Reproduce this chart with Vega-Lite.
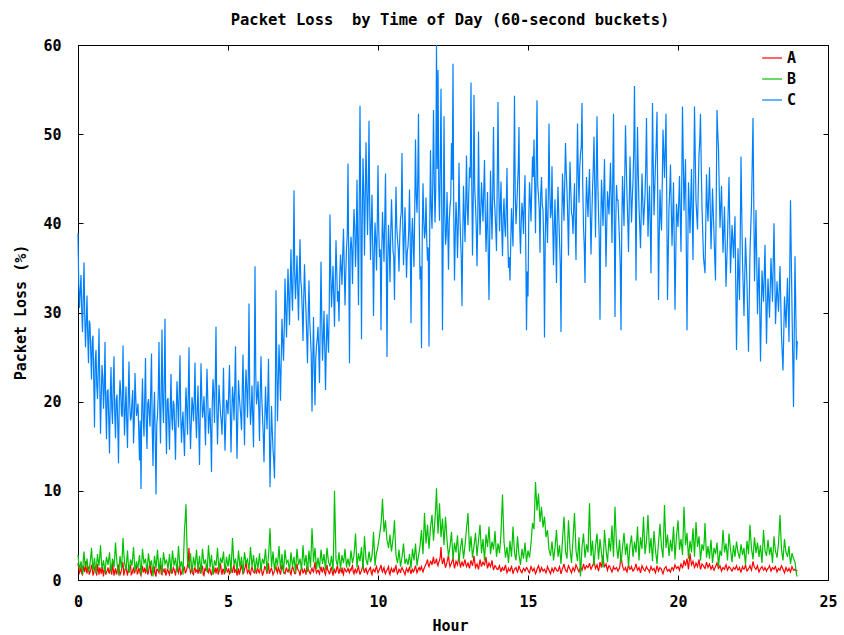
{
  "$schema": "https://vega.github.io/schema/vega-lite/v6.json",
  "width": 750,
  "height": 535,
  "autosize": {"type": "none"},
  "padding": {"left": 78, "top": 45, "right": 16, "bottom": 55},
  "title": {
    "text": "Packet Loss \u00a0by Time of Day (60-second buckets)",
    "frame": "group",
    "anchor": "middle",
    "baseline": "alphabetic",
    "offset": -2,
    "dx": -3,
    "font": "DejaVu Sans Mono",
    "fontSize": 15.5,
    "fontWeight": "bold",
    "color": "#000"
  },
  "data": {
    "values": [
      {"h":0,"A":1.9,"B":2.8,"C":38.9},{"h":0.025,"A":1.3,"B":1.9,"C":33.1},{"h":0.05,"A":0.8,"B":1.2,"C":30.5},{"h":0.075,"A":1.0,"B":1.6,"C":32.4},{"h":0.1,"A":1.5,"B":2.1,"C":34.2},{"h":0.125,"A":0.7,"B":1.4,"C":30.2},{"h":0.15,"A":0.6,"B":0.6,"C":27.8},{"h":0.175,"A":1.6,"B":2.3,"C":31.5},{"h":0.2,"A":1.2,"B":3.2,"C":35.6},{"h":0.225,"A":0.9,"B":2.0,"C":29.8},
      {"h":0.25,"A":2.1,"B":1.5,"C":26.1},{"h":0.275,"A":1.2,"B":1.8,"C":28.9},{"h":0.3,"A":0.7,"B":2.4,"C":31.9},{"h":0.325,"A":1.5,"B":1.5,"C":27.3},{"h":0.35,"A":1.4,"B":0.9,"C":24.3},{"h":0.375,"A":0.6,"B":1.3,"C":29.1},{"h":0.4,"A":0.9,"B":1.8,"C":28.7},{"h":0.425,"A":1.1,"B":2.6,"C":25.6},{"h":0.45,"A":1.7,"B":3.6,"C":22.5},{"h":0.475,"A":1.4,"B":2.2,"C":26.8},
      {"h":0.5,"A":0.5,"B":1.1,"C":27.4},{"h":0.525,"A":0.8,"B":1.8,"C":22.4},{"h":0.55,"A":1.3,"B":2.5,"C":17.1},{"h":0.575,"A":1.6,"B":1.5,"C":24.7},{"h":0.6,"A":1.0,"B":0.7,"C":25.8},{"h":0.625,"A":0.5,"B":1.9,"C":21.9},{"h":0.65,"A":1.8,"B":2.9,"C":20.3},{"h":0.675,"A":1.2,"B":2.1,"C":23.5},{"h":0.7,"A":0.6,"B":1.6,"C":28.2},{"h":0.725,"A":1.4,"B":2.6,"C":22.1},
      {"h":0.75,"A":1.1,"B":3.9,"C":16.4},{"h":0.775,"A":0.7,"B":2.4,"C":20.6},{"h":0.8,"A":1.5,"B":1.3,"C":24.1},{"h":0.825,"A":1.0,"B":1.7,"C":22.8},{"h":0.85,"A":0.4,"B":2.2,"C":19.2},{"h":0.875,"A":1.3,"B":1.5,"C":21.4},{"h":0.9,"A":1.2,"B":0.8,"C":26.7},{"h":0.925,"A":0.6,"B":1.8,"C":19.7},{"h":0.95,"A":0.9,"B":2.6,"C":15.8},{"h":0.975,"A":1.1,"B":2.2,"C":21.2},
      {"h":1,"A":1.4,"B":1.7,"C":21.3},{"h":1.025,"A":0.9,"B":2.3,"C":18.1},{"h":1.05,"A":0.7,"B":3.1,"C":14.2},{"h":1.075,"A":1.5,"B":1.8,"C":20.6},{"h":1.1,"A":1.1,"B":0.9,"C":23.9},{"h":1.125,"A":0.6,"B":1.6,"C":19.3},{"h":1.15,"A":1.9,"B":2.4,"C":17.5},{"h":1.175,"A":1.2,"B":2.0,"C":21.8},{"h":1.2,"A":0.5,"B":1.4,"C":25.1},{"h":1.225,"A":1.0,"B":2.7,"C":18.7},
      {"h":1.25,"A":1.3,"B":4.2,"C":15.9},{"h":1.275,"A":0.7,"B":2.9,"C":20.2},{"h":1.3,"A":0.8,"B":1.9,"C":20.8},{"h":1.325,"A":1.4,"B":1.2,"C":17.4},{"h":1.35,"A":1.6,"B":0.5,"C":13.1},{"h":1.375,"A":1.1,"B":1.6,"C":19.9},{"h":1.4,"A":0.6,"B":2.7,"C":22.4},{"h":1.425,"A":0.8,"B":1.9,"C":21.0},{"h":1.45,"A":1.2,"B":1.2,"C":18.6},{"h":1.475,"A":1.6,"B":2.8,"C":18.3},
      {"h":1.5,"A":2.0,"B":4.7,"C":26.3},{"h":1.525,"A":0.5,"B":3.1,"C":20.7},{"h":1.55,"A":0.9,"B":2.0,"C":16.2},{"h":1.575,"A":1.3,"B":1.5,"C":19.1},{"h":1.6,"A":1.4,"B":1.1,"C":21.7},{"h":1.625,"A":0.9,"B":2.2,"C":17.8},{"h":1.65,"A":0.5,"B":3.3,"C":14.8},{"h":1.675,"A":1.2,"B":1.9,"C":20.4},{"h":1.7,"A":1.0,"B":0.8,"C":24.5},{"h":1.725,"A":1.5,"B":1.5,"C":19.6},
      {"h":1.75,"A":1.7,"B":2.3,"C":17.9},{"h":1.775,"A":0.6,"B":2.0,"C":18.2},{"h":1.8,"A":0.7,"B":1.6,"C":20.1},{"h":1.825,"A":1.1,"B":2.6,"C":21.3},{"h":1.85,"A":1.3,"B":3.7,"C":15.3},{"h":1.875,"A":0.8,"B":2.3,"C":17.7},{"h":1.9,"A":0.9,"B":1.0,"C":23.2},{"h":1.925,"A":1.4,"B":1.5,"C":20.5},{"h":1.95,"A":1.5,"B":2.1,"C":18.4},{"h":1.975,"A":0.7,"B":1.6,"C":18.9},
      {"h":2,"A":0.8,"B":1.4,"C":19.8},{"h":2.025,"A":1.3,"B":2.1,"C":16.8},{"h":2.05,"A":1.2,"B":2.8,"C":13.4},{"h":2.075,"A":0.7,"B":1.7,"C":17.9},{"h":2.1,"A":0.5,"B":0.6,"C":10.2},{"h":2.125,"A":1.1,"B":2.0,"C":19.2},{"h":2.15,"A":1.6,"B":3.5,"C":22.6},{"h":2.175,"A":0.9,"B":2.6,"C":18.1},{"h":2.2,"A":1.0,"B":1.9,"C":16.1},{"h":2.225,"A":1.4,"B":2.1,"C":20.5},
      {"h":2.25,"A":0.7,"B":2.4,"C":24.9},{"h":2.275,"A":1.2,"B":1.6,"C":17.3},{"h":2.3,"A":1.4,"B":0.9,"C":14.7},{"h":2.325,"A":0.6,"B":2.0,"C":19.8},{"h":2.35,"A":0.9,"B":3.0,"C":20.3},{"h":2.375,"A":1.5,"B":2.2,"C":18.6},{"h":2.4,"A":2.1,"B":1.5,"C":17.2},{"h":2.425,"A":0.8,"B":1.8,"C":21.4},{"h":2.45,"A":0.6,"B":2.2,"C":25.4},{"h":2.475,"A":1.3,"B":1.3,"C":16.9},
      {"h":2.5,"A":1.1,"B":0.4,"C":12.8},{"h":2.525,"A":0.9,"B":1.6,"C":18.7},{"h":2.55,"A":1.5,"B":2.7,"C":21.1},{"h":2.575,"A":0.6,"B":2.0,"C":15.8},{"h":2.6,"A":0.4,"B":1.3,"C":9.6},{"h":2.625,"A":1.2,"B":2.4,"C":17.4},{"h":2.65,"A":1.2,"B":3.4,"C":18.5},{"h":2.675,"A":1.0,"B":2.1,"C":20.9},{"h":2.7,"A":0.8,"B":1.0,"C":26.7},{"h":2.725,"A":1.4,"B":1.7,"C":19.3},
      {"h":2.75,"A":1.7,"B":2.5,"C":15.3},{"h":2.775,"A":0.7,"B":1.6,"C":21.6},{"h":2.8,"A":0.6,"B":0.7,"C":28.1},{"h":2.825,"A":1.3,"B":1.9,"C":19.8},{"h":2.85,"A":1.0,"B":3.1,"C":17.6},{"h":2.875,"A":0.9,"B":2.4,"C":22.4},{"h":2.9,"A":1.3,"B":1.8,"C":29.3},{"h":2.925,"A":0.5,"B":2.0,"C":18.5},{"h":2.95,"A":0.7,"B":2.3,"C":14.1},{"h":2.975,"A":1.2,"B":1.8,"C":20.1},
      {"h":3,"A":1.1,"B":1.2,"C":20.4},{"h":3.025,"A":0.8,"B":2.0,"C":17.6},{"h":3.05,"A":0.6,"B":2.9,"C":14.6},{"h":3.075,"A":1.3,"B":1.9,"C":19.4},{"h":3.1,"A":1.5,"B":0.8,"C":23.1},{"h":3.125,"A":0.7,"B":2.1,"C":18.2},{"h":3.15,"A":0.9,"B":3.3,"C":16.8},{"h":3.175,"A":1.4,"B":2.4,"C":20.1},{"h":3.2,"A":1.2,"B":1.6,"C":19.7},{"h":3.225,"A":0.9,"B":2.0,"C":16.8},
      {"h":3.25,"A":0.5,"B":2.5,"C":13.5},{"h":3.275,"A":1.2,"B":1.7,"C":18.9},{"h":3.3,"A":1.7,"B":0.9,"C":22.3},{"h":3.325,"A":1.0,"B":2.3,"C":19.7},{"h":3.35,"A":0.8,"B":3.8,"C":17.1},{"h":3.375,"A":1.5,"B":2.5,"C":21.2},{"h":3.4,"A":1.3,"B":1.4,"C":25.2},{"h":3.425,"A":0.6,"B":1.8,"C":18.4},{"h":3.45,"A":0.7,"B":2.1,"C":15.4},{"h":3.475,"A":1.1,"B":1.4,"C":17.6},
      {"h":3.5,"A":1.0,"B":0.6,"C":18.9},{"h":3.525,"A":1.3,"B":3.2,"C":16.2},{"h":3.55,"A":1.4,"B":5.6,"C":13.9},{"h":3.575,"A":0.8,"B":6.9,"C":18.5},{"h":3.6,"A":0.9,"B":8.5,"C":21.6},{"h":3.625,"A":1.2,"B":4.8,"C":19.3},{"h":3.65,"A":1.6,"B":2.2,"C":16.3},{"h":3.675,"A":2.2,"B":1.7,"C":20.8},{"h":3.7,"A":3.6,"B":1.3,"C":26.1},{"h":3.725,"A":1.4,"B":2.1,"C":18.1},
      {"h":3.75,"A":0.8,"B":3.0,"C":14.7},{"h":3.775,"A":1.0,"B":1.9,"C":17.5},{"h":3.8,"A":1.2,"B":0.8,"C":20.5},{"h":3.825,"A":0.7,"B":1.7,"C":19.6},{"h":3.85,"A":0.6,"B":2.6,"C":17.8},{"h":3.875,"A":1.3,"B":2.0,"C":20.3},{"h":3.9,"A":1.4,"B":1.5,"C":24.4},{"h":3.925,"A":0.9,"B":2.4,"C":18.2},{"h":3.95,"A":1.0,"B":3.4,"C":15.9},{"h":3.975,"A":1.2,"B":2.2,"C":19.1},
      {"h":4,"A":0.7,"B":1.1,"C":21.8},{"h":4.025,"A":1.1,"B":1.9,"C":17.4},{"h":4.05,"A":1.3,"B":2.7,"C":12.9},{"h":4.075,"A":0.8,"B":1.7,"C":18.8},{"h":4.1,"A":0.9,"B":0.7,"C":24.3},{"h":4.125,"A":1.4,"B":2.1,"C":20.6},{"h":4.15,"A":1.6,"B":3.5,"C":18.2},{"h":4.175,"A":0.6,"B":2.6,"C":19.1},{"h":4.2,"A":0.5,"B":1.8,"C":20.6},{"h":4.225,"A":1.2,"B":2.0,"C":17.9},
      {"h":4.25,"A":1.1,"B":2.3,"C":15.1},{"h":4.275,"A":1.5,"B":1.6,"C":19.8},{"h":4.3,"A":1.8,"B":0.9,"C":23.7},{"h":4.325,"A":0.9,"B":2.3,"C":20.4},{"h":4.35,"A":0.8,"B":3.9,"C":16.4},{"h":4.375,"A":1.3,"B":2.7,"C":18.2},{"h":4.4,"A":1.2,"B":1.4,"C":19.3},{"h":4.425,"A":0.7,"B":2.1,"C":16.5},{"h":4.45,"A":0.6,"B":2.8,"C":12.1},{"h":4.475,"A":1.1,"B":1.7,"C":19.7},
      {"h":4.5,"A":1.5,"B":0.6,"C":22.5},{"h":4.525,"A":0.8,"B":1.4,"C":20.8},{"h":4.55,"A":1.0,"B":2.2,"C":17.6},{"h":4.575,"A":1.4,"B":1.9,"C":22.3},{"h":4.6,"A":0.7,"B":1.6,"C":28.4},{"h":4.625,"A":1.2,"B":2.5,"C":19.5},{"h":4.65,"A":1.4,"B":3.6,"C":15.2},{"h":4.675,"A":0.6,"B":2.3,"C":18.6},{"h":4.7,"A":0.9,"B":1.0,"C":21.9},{"h":4.725,"A":1.3,"B":1.8,"C":20.2},
      {"h":4.75,"A":1.9,"B":2.5,"C":18.7},{"h":4.775,"A":1.0,"B":2.2,"C":17.8},{"h":4.8,"A":0.6,"B":1.9,"C":16.3},{"h":4.825,"A":1.2,"B":2.5,"C":19.4},{"h":4.85,"A":1.2,"B":3.2,"C":23.8},{"h":4.875,"A":0.7,"B":2.0,"C":18.3},{"h":4.9,"A":0.8,"B":0.8,"C":14.5},{"h":4.925,"A":1.5,"B":1.7,"C":17.6},{"h":4.95,"A":1.3,"B":2.6,"C":20.2},{"h":4.975,"A":0.9,"B":2.0,"C":19.8},
      {"h":5,"A":1.0,"B":1.5,"C":18.6},{"h":5.025,"A":1.3,"B":2.2,"C":21.2},{"h":5.05,"A":0.6,"B":2.9,"C":24.1},{"h":5.075,"A":0.9,"B":1.9,"C":19.1},{"h":5.1,"A":1.4,"B":0.8,"C":14.3},{"h":5.125,"A":1.1,"B":2.8,"C":18.3},{"h":5.15,"A":0.8,"B":4.7,"C":21.7},{"h":5.175,"A":1.4,"B":3.1,"C":20.4},{"h":5.2,"A":1.7,"B":1.7,"C":17.9},{"h":5.225,"A":0.8,"B":2.0,"C":21.6},
      {"h":5.25,"A":1.1,"B":2.4,"C":26.2},{"h":5.275,"A":1.2,"B":1.7,"C":18.9},{"h":5.3,"A":0.5,"B":1.0,"C":13.6},{"h":5.325,"A":0.9,"B":2.1,"C":17.8},{"h":5.35,"A":1.3,"B":3.3,"C":22.4},{"h":5.375,"A":0.6,"B":2.4,"C":20.7},{"h":5.4,"A":0.9,"B":1.4,"C":19.5},{"h":5.425,"A":1.4,"B":1.9,"C":18.4},{"h":5.45,"A":1.6,"B":2.6,"C":16.8},{"h":5.475,"A":1.1,"B":1.7,"C":21.3},
      {"h":5.5,"A":0.7,"B":0.7,"C":25.3},{"h":5.525,"A":0.8,"B":1.9,"C":19.6},{"h":5.55,"A":1.2,"B":3.1,"C":15.1},{"h":5.575,"A":1.5,"B":2.5,"C":20.8},{"h":5.6,"A":2.2,"B":1.9,"C":23.6},{"h":5.625,"A":1.3,"B":2.1,"C":21.5},{"h":5.65,"A":0.8,"B":2.3,"C":18.2},{"h":5.675,"A":1.0,"B":1.7,"C":22.6},{"h":5.7,"A":1.1,"B":1.1,"C":31.0},{"h":5.725,"A":0.7,"B":2.4,"C":20.3},
      {"h":5.75,"A":0.6,"B":3.7,"C":17.4},{"h":5.775,"A":1.2,"B":2.6,"C":19.1},{"h":5.8,"A":1.5,"B":1.5,"C":21.8},{"h":5.825,"A":1.1,"B":2.1,"C":18.2},{"h":5.85,"A":0.9,"B":2.8,"C":14.9},{"h":5.875,"A":0.8,"B":1.9,"C":22.4},{"h":5.9,"A":1.3,"B":0.9,"C":35.2},{"h":5.925,"A":1.0,"B":1.7,"C":23.1},{"h":5.95,"A":0.7,"B":2.5,"C":19.7},{"h":5.975,"A":1.3,"B":1.9,"C":20.6},
      {"h":6,"A":1.2,"B":1.3,"C":22.3},{"h":6.025,"A":0.9,"B":2.1,"C":19.4},{"h":6.05,"A":0.8,"B":3.0,"C":15.6},{"h":6.075,"A":1.3,"B":2.0,"C":21.2},{"h":6.1,"A":1.6,"B":1.1,"C":25.1},{"h":6.125,"A":1.0,"B":1.8,"C":20.6},{"h":6.15,"A":0.5,"B":2.4,"C":18.4},{"h":6.175,"A":0.8,"B":2.1,"C":16.3},{"h":6.2,"A":1.1,"B":1.8,"C":13.2},{"h":6.225,"A":1.5,"B":2.6,"C":17.8},
      {"h":6.25,"A":1.4,"B":3.5,"C":21.7},{"h":6.275,"A":1.1,"B":2.2,"C":19.1},{"h":6.3,"A":0.7,"B":0.9,"C":16.9},{"h":6.325,"A":1.3,"B":1.8,"C":20.3},{"h":6.35,"A":1.9,"B":2.7,"C":24.8},{"h":6.375,"A":0.7,"B":4.1,"C":17.6},{"h":6.4,"A":0.9,"B":5.8,"C":10.4},{"h":6.425,"A":1.2,"B":3.6,"C":15.2},{"h":6.45,"A":1.3,"B":1.4,"C":19.5},{"h":6.475,"A":1.0,"B":2.3,"C":16.8},
      {"h":6.5,"A":0.6,"B":3.2,"C":14.6},{"h":6.525,"A":0.8,"B":2.1,"C":13.4},{"h":6.55,"A":1.0,"B":1.0,"C":11.4},{"h":6.575,"A":1.3,"B":1.8,"C":18.6},{"h":6.6,"A":1.5,"B":2.5,"C":32.5},{"h":6.625,"A":1.0,"B":2.0,"C":24.3},{"h":6.65,"A":0.8,"B":1.6,"C":17.8},{"h":6.675,"A":1.4,"B":2.7,"C":22.1},{"h":6.7,"A":1.2,"B":3.8,"C":26.4},{"h":6.725,"A":0.9,"B":2.5,"C":23.7},
      {"h":6.75,"A":0.6,"B":1.2,"C":20.1},{"h":6.775,"A":1.2,"B":2.0,"C":24.9},{"h":6.8,"A":1.7,"B":2.9,"C":29.3},{"h":6.825,"A":1.3,"B":1.8,"C":26.8},{"h":6.85,"A":1.0,"B":0.7,"C":24.6},{"h":6.875,"A":0.8,"B":2.1,"C":28.1},{"h":6.9,"A":0.7,"B":3.4,"C":33.8},{"h":6.925,"A":1.1,"B":2.6,"C":30.4},{"h":6.95,"A":1.4,"B":1.9,"C":27.2},{"h":6.975,"A":1.0,"B":2.1,"C":31.1},
      {"h":7,"A":0.9,"B":2.2,"C":34.9},{"h":7.025,"A":1.2,"B":1.6,"C":31.8},{"h":7.05,"A":1.3,"B":1.0,"C":28.6},{"h":7.075,"A":0.8,"B":2.0,"C":33.2},{"h":7.1,"A":0.6,"B":3.1,"C":37.1},{"h":7.125,"A":1.1,"B":2.3,"C":32.6},{"h":7.15,"A":1.5,"B":1.5,"C":30.2},{"h":7.175,"A":1.3,"B":2.1,"C":35.1},{"h":7.2,"A":1.0,"B":2.6,"C":43.7},{"h":7.225,"A":0.7,"B":1.7,"C":34.2},
      {"h":7.25,"A":0.7,"B":0.8,"C":31.5},{"h":7.275,"A":1.4,"B":2.2,"C":33.8},{"h":7.3,"A":1.8,"B":3.5,"C":36.4},{"h":7.325,"A":1.2,"B":2.6,"C":32.4},{"h":7.35,"A":1.1,"B":1.7,"C":29.1},{"h":7.375,"A":0.9,"B":2.0,"C":34.1},{"h":7.4,"A":0.5,"B":2.4,"C":38.2},{"h":7.425,"A":1.0,"B":1.8,"C":33.6},{"h":7.45,"A":1.4,"B":1.1,"C":32.7},{"h":7.475,"A":1.2,"B":2.4,"C":30.2},
      {"h":7.5,"A":0.8,"B":3.9,"C":26.8},{"h":7.525,"A":0.9,"B":2.7,"C":31.7},{"h":7.55,"A":1.2,"B":1.6,"C":35.4},{"h":7.575,"A":1.0,"B":2.2,"C":32.3},{"h":7.6,"A":0.6,"B":2.8,"C":30.1},{"h":7.625,"A":1.4,"B":1.9,"C":27.4},{"h":7.65,"A":1.6,"B":0.9,"C":24.3},{"h":7.675,"A":1.2,"B":2.1,"C":29.8},{"h":7.7,"A":1.0,"B":3.3,"C":33.6},{"h":7.725,"A":0.8,"B":2.3,"C":29.1},
      {"h":7.75,"A":0.7,"B":1.4,"C":27.2},{"h":7.775,"A":1.1,"B":3.4,"C":25.2},{"h":7.8,"A":1.3,"B":5.8,"C":18.9},{"h":7.825,"A":1.0,"B":4.1,"C":24.3},{"h":7.85,"A":0.9,"B":2.0,"C":29.5},{"h":7.875,"A":1.5,"B":2.8,"C":23.9},{"h":7.9,"A":2.0,"B":3.6,"C":19.6},{"h":7.925,"A":1.2,"B":2.4,"C":24.8},{"h":7.95,"A":0.8,"B":1.2,"C":26.3},{"h":7.975,"A":1.0,"B":1.9,"C":27.1},
      {"h":8,"A":1.1,"B":2.5,"C":28.4},{"h":8.025,"A":0.9,"B":1.8,"C":25.6},{"h":8.05,"A":0.7,"B":1.3,"C":22.1},{"h":8.075,"A":1.2,"B":2.4,"C":28.9},{"h":8.1,"A":1.5,"B":3.4,"C":35.7},{"h":8.125,"A":1.0,"B":2.6,"C":29.3},{"h":8.15,"A":0.9,"B":1.8,"C":24.6},{"h":8.175,"A":1.4,"B":2.3,"C":27.1},{"h":8.2,"A":1.3,"B":2.9,"C":30.2},{"h":8.225,"A":0.8,"B":2.0,"C":26.2},
      {"h":8.25,"A":0.6,"B":1.1,"C":21.3},{"h":8.275,"A":1.2,"B":2.4,"C":25.8},{"h":8.3,"A":1.7,"B":3.6,"C":29.8},{"h":8.325,"A":1.1,"B":2.8,"C":27.4},{"h":8.35,"A":1.0,"B":2.0,"C":25.5},{"h":8.375,"A":0.7,"B":1.8,"C":30.6},{"h":8.4,"A":0.8,"B":1.5,"C":41.0},{"h":8.425,"A":1.3,"B":2.1,"C":34.2},{"h":8.45,"A":1.4,"B":2.7,"C":30.6},{"h":8.475,"A":0.9,"B":1.9,"C":32.8},
      {"h":8.5,"A":0.5,"B":1.0,"C":35.2},{"h":8.525,"A":1.1,"B":4.3,"C":31.7},{"h":8.55,"A":1.2,"B":10.0,"C":28.4},{"h":8.575,"A":0.8,"B":6.2,"C":33.5},{"h":8.6,"A":0.9,"B":2.3,"C":38.1},{"h":8.625,"A":1.4,"B":1.9,"C":34.6},{"h":8.65,"A":1.6,"B":1.6,"C":31.2},{"h":8.675,"A":1.0,"B":2.4,"C":32.4},{"h":8.7,"A":0.7,"B":3.1,"C":29.0},{"h":8.725,"A":1.2,"B":2.2,"C":33.8},
      {"h":8.75,"A":1.1,"B":1.2,"C":36.5},{"h":8.775,"A":0.9,"B":2.0,"C":34.9},{"h":8.8,"A":1.4,"B":2.8,"C":33.1},{"h":8.825,"A":0.8,"B":2.3,"C":36.7},{"h":8.85,"A":0.6,"B":1.9,"C":39.4},{"h":8.875,"A":1.3,"B":2.6,"C":35.1},{"h":8.9,"A":1.2,"B":3.5,"C":30.8},{"h":8.925,"A":1.0,"B":2.5,"C":34.2},{"h":8.95,"A":0.9,"B":1.4,"C":37.2},{"h":8.975,"A":1.1,"B":2.0,"C":38.6},
      {"h":9,"A":1.3,"B":2.4,"C":46.7},{"h":9.025,"A":1.0,"B":1.9,"C":35.4},{"h":9.05,"A":0.8,"B":1.5,"C":24.3},{"h":9.075,"A":1.2,"B":2.4,"C":36.9},{"h":9.1,"A":1.1,"B":3.3,"C":38.5},{"h":9.125,"A":1.4,"B":2.6,"C":37.1},{"h":9.15,"A":1.6,"B":1.9,"C":33.2},{"h":9.175,"A":0.9,"B":2.3,"C":38.3},{"h":9.2,"A":0.7,"B":2.8,"C":41.6},{"h":9.225,"A":1.1,"B":3.9,"C":39.6},
      {"h":9.25,"A":1.2,"B":5.2,"C":35.1},{"h":9.275,"A":0.8,"B":3.4,"C":38.2},{"h":9.3,"A":0.9,"B":1.4,"C":44.9},{"h":9.325,"A":1.3,"B":2.2,"C":37.4},{"h":9.35,"A":1.5,"B":3.0,"C":30.8},{"h":9.375,"A":1.0,"B":2.5,"C":42.1},{"h":9.4,"A":0.6,"B":2.1,"C":53.2},{"h":9.425,"A":0.9,"B":2.9,"C":41.6},{"h":9.45,"A":1.0,"B":3.7,"C":27.0},{"h":9.475,"A":1.4,"B":2.4,"C":40.7},
      {"h":9.5,"A":1.8,"B":1.2,"C":47.3},{"h":9.525,"A":1.1,"B":3.0,"C":43.3},{"h":9.55,"A":0.8,"B":4.9,"C":36.4},{"h":9.575,"A":1.2,"B":3.6,"C":42.8},{"h":9.6,"A":1.3,"B":2.3,"C":49.1},{"h":9.625,"A":0.9,"B":2.0,"C":44.1},{"h":9.65,"A":0.7,"B":1.7,"C":38.7},{"h":9.675,"A":1.0,"B":2.5,"C":43.4},{"h":9.7,"A":1.1,"B":3.2,"C":51.5},{"h":9.725,"A":1.3,"B":2.6,"C":41.2},
      {"h":9.75,"A":1.4,"B":2.0,"C":35.9},{"h":9.775,"A":0.8,"B":2.3,"C":39.9},{"h":9.8,"A":0.6,"B":2.7,"C":43.2},{"h":9.825,"A":1.1,"B":3.8,"C":37.3},{"h":9.85,"A":1.2,"B":5.4,"C":29.6},{"h":9.875,"A":1.0,"B":3.5,"C":36.5},{"h":9.9,"A":0.9,"B":1.6,"C":40.1},{"h":9.925,"A":1.3,"B":2.4,"C":38.2},{"h":9.95,"A":1.5,"B":3.1,"C":34.7},{"h":9.975,"A":1.1,"B":3.3,"C":39.7},
      {"h":10,"A":0.8,"B":3.8,"C":46.5},{"h":10.025,"A":1.0,"B":4.4,"C":39.4},{"h":10.05,"A":1.2,"B":4.9,"C":36.2},{"h":10.075,"A":1.4,"B":5.6,"C":37.1},{"h":10.1,"A":1.7,"B":6.3,"C":28.0},{"h":10.125,"A":1.1,"B":7.4,"C":36.8},{"h":10.15,"A":0.9,"B":9.1,"C":41.3},{"h":10.175,"A":1.2,"B":7.2,"C":38.6},{"h":10.2,"A":1.4,"B":5.4,"C":35.7},{"h":10.225,"A":0.9,"B":6.0,"C":40.3},
      {"h":10.25,"A":0.7,"B":6.7,"C":45.6},{"h":10.275,"A":1.0,"B":5.5,"C":37.2},{"h":10.3,"A":1.1,"B":4.5,"C":25.0},{"h":10.325,"A":1.3,"B":4.1,"C":35.9},{"h":10.35,"A":1.5,"B":3.6,"C":39.8},{"h":10.375,"A":0.8,"B":4.3,"C":37.4},{"h":10.4,"A":0.6,"B":5.1,"C":33.4},{"h":10.425,"A":1.1,"B":4.0,"C":38.9},{"h":10.45,"A":1.3,"B":3.2,"C":42.7},{"h":10.475,"A":1.0,"B":3.9,"C":39.5},
      {"h":10.5,"A":0.9,"B":4.6,"C":36.9},{"h":10.525,"A":1.2,"B":5.5,"C":36.2},{"h":10.55,"A":1.0,"B":6.7,"C":31.4},{"h":10.575,"A":1.4,"B":4.6,"C":38.7},{"h":10.6,"A":1.6,"B":2.8,"C":44.1},{"h":10.625,"A":1.0,"B":2.3,"C":39.6},{"h":10.65,"A":0.7,"B":1.9,"C":38.2},{"h":10.675,"A":0.9,"B":2.6,"C":37.1},{"h":10.7,"A":1.2,"B":3.4,"C":34.6},{"h":10.725,"A":1.1,"B":2.5,"C":38.4},
      {"h":10.75,"A":0.8,"B":1.5,"C":40.5},{"h":10.775,"A":1.2,"B":2.0,"C":41.2},{"h":10.8,"A":1.4,"B":2.6,"C":47.9},{"h":10.825,"A":1.2,"B":3.3,"C":39.8},{"h":10.85,"A":1.0,"B":4.1,"C":35.3},{"h":10.875,"A":0.8,"B":2.9,"C":38.6},{"h":10.9,"A":0.6,"B":1.8,"C":41.8},{"h":10.925,"A":1.0,"B":2.1,"C":37.9},{"h":10.95,"A":1.3,"B":2.4,"C":33.9},{"h":10.975,"A":1.1,"B":2.0,"C":36.8},
      {"h":11,"A":0.9,"B":1.7,"C":37.4},{"h":11.025,"A":1.2,"B":2.3,"C":39.2},{"h":11.05,"A":1.4,"B":2.9,"C":43.8},{"h":11.075,"A":1.0,"B":2.1,"C":37.8},{"h":11.1,"A":0.7,"B":1.3,"C":28.8},{"h":11.125,"A":1.1,"B":2.4,"C":38.6},{"h":11.15,"A":1.2,"B":3.5,"C":40.6},{"h":11.175,"A":0.9,"B":2.8,"C":37.4},{"h":11.2,"A":1.0,"B":2.2,"C":35.1},{"h":11.225,"A":1.3,"B":3.1,"C":41.5},
      {"h":11.25,"A":1.6,"B":4.1,"C":49.4},{"h":11.275,"A":1.2,"B":2.9,"C":43.1},{"h":11.3,"A":0.8,"B":1.6,"C":41.2},{"h":11.325,"A":1.0,"B":2.2,"C":44.6},{"h":11.35,"A":1.3,"B":2.7,"C":52.3},{"h":11.375,"A":1.4,"B":3.2,"C":40.3},{"h":11.4,"A":1.1,"B":3.8,"C":33.7},{"h":11.425,"A":1.3,"B":4.7,"C":35.2},{"h":11.45,"A":1.5,"B":5.6,"C":26.0},{"h":11.475,"A":1.1,"B":4.1,"C":38.7},
      {"h":11.5,"A":0.9,"B":2.9,"C":44.5},{"h":11.525,"A":1.2,"B":5.2,"C":40.4},{"h":11.55,"A":1.4,"B":7.5,"C":38.3},{"h":11.575,"A":1.6,"B":5.8,"C":39.1},{"h":11.6,"A":1.8,"B":4.1,"C":42.9},{"h":11.625,"A":2.0,"B":5.1,"C":38.2},{"h":11.65,"A":2.3,"B":6.2,"C":35.8},{"h":11.675,"A":1.7,"B":4.8,"C":37.3},{"h":11.7,"A":1.5,"B":3.5,"C":26.2},{"h":11.725,"A":1.8,"B":4.7,"C":40.1},
      {"h":11.75,"A":2.1,"B":5.9,"C":48.2},{"h":11.775,"A":2.0,"B":6.6,"C":41.6},{"h":11.8,"A":1.7,"B":7.3,"C":39.4},{"h":11.825,"A":2.2,"B":5.8,"C":44.3},{"h":11.85,"A":2.6,"B":4.4,"C":52.7},{"h":11.875,"A":1.9,"B":5.6,"C":45.2},{"h":11.9,"A":1.9,"B":6.8,"C":40.1},{"h":11.925,"A":2.1,"B":8.2,"C":43.8},{"h":11.95,"A":2.4,"B":10.3,"C":60.0},{"h":11.975,"A":1.8,"B":7.4,"C":46.1},
      {"h":12,"A":1.6,"B":5.2,"C":57.2},{"h":12.025,"A":2.0,"B":6.9,"C":44.2},{"h":12.05,"A":2.2,"B":8.6,"C":40.3},{"h":12.075,"A":2.6,"B":6.6,"C":46.3},{"h":12.1,"A":3.7,"B":4.8,"C":55.1},{"h":12.125,"A":2.3,"B":5.9,"C":41.8},{"h":12.15,"A":1.8,"B":6.9,"C":28.0},{"h":12.175,"A":2.1,"B":5.4,"C":39.4},{"h":12.2,"A":2.5,"B":3.9,"C":52.0},{"h":12.225,"A":1.8,"B":5.5,"C":41.3},
      {"h":12.25,"A":1.4,"B":7.1,"C":37.6},{"h":12.275,"A":1.7,"B":5.8,"C":38.6},{"h":12.3,"A":2.0,"B":4.5,"C":43.5},{"h":12.325,"A":2.4,"B":3.5,"C":39.8},{"h":12.35,"A":2.8,"B":2.6,"C":34.8},{"h":12.375,"A":1.9,"B":3.2,"C":40.2},{"h":12.4,"A":1.5,"B":3.8,"C":41.9},{"h":12.425,"A":1.7,"B":4.6,"C":42.7},{"h":12.45,"A":1.9,"B":5.4,"C":49.0},{"h":12.475,"A":2.2,"B":3.8,"C":44.9},
      {"h":12.5,"A":2.4,"B":2.3,"C":57.9},{"h":12.525,"A":1.8,"B":3.2,"C":41.2},{"h":12.55,"A":1.3,"B":4.2,"C":33.6},{"h":12.575,"A":1.7,"B":3.6,"C":38.7},{"h":12.6,"A":2.1,"B":3.1,"C":42.4},{"h":12.625,"A":1.9,"B":4.1,"C":40.3},{"h":12.65,"A":1.7,"B":5.0,"C":36.1},{"h":12.675,"A":2.2,"B":3.5,"C":39.8},{"h":12.7,"A":2.8,"B":2.0,"C":46.8},{"h":12.725,"A":1.9,"B":2.8,"C":41.5},
      {"h":12.75,"A":1.4,"B":3.6,"C":38.5},{"h":12.775,"A":1.8,"B":4.2,"C":36.2},{"h":12.8,"A":2.0,"B":4.7,"C":30.7},{"h":12.825,"A":1.7,"B":3.5,"C":38.4},{"h":12.85,"A":1.6,"B":2.4,"C":44.2},{"h":12.875,"A":2.0,"B":3.1,"C":40.9},{"h":12.9,"A":2.3,"B":3.9,"C":37.9},{"h":12.925,"A":1.8,"B":4.8,"C":42.1},{"h":12.95,"A":1.5,"B":5.8,"C":47.6},{"h":12.975,"A":1.7,"B":6.6,"C":41.8},
      {"h":13,"A":1.9,"B":7.5,"C":39.8},{"h":13.025,"A":1.6,"B":5.4,"C":43.2},{"h":13.05,"A":1.3,"B":3.2,"C":46.3},{"h":13.075,"A":1.8,"B":4.1,"C":45.1},{"h":13.1,"A":2.2,"B":4.9,"C":55.8},{"h":13.125,"A":1.9,"B":3.7,"C":44.7},{"h":13.15,"A":1.6,"B":2.5,"C":36.4},{"h":13.175,"A":2.1,"B":3.2,"C":42.9},{"h":13.2,"A":2.7,"B":3.8,"C":54.4},{"h":13.225,"A":2.0,"B":4.5,"C":43.8},
      {"h":13.25,"A":1.4,"B":5.3,"C":42.1},{"h":13.275,"A":1.6,"B":4.0,"C":39.6},{"h":13.3,"A":1.8,"B":2.7,"C":35.2},{"h":13.325,"A":1.5,"B":3.6,"C":40.4},{"h":13.35,"A":1.2,"B":4.4,"C":50.3},{"h":13.375,"A":1.7,"B":5.3,"C":42.8},{"h":13.4,"A":2.3,"B":6.2,"C":38.7},{"h":13.425,"A":1.9,"B":4.6,"C":41.3},{"h":13.45,"A":1.5,"B":3.0,"C":44.6},{"h":13.475,"A":1.8,"B":3.8,"C":42.4},
      {"h":13.5,"A":2.0,"B":4.6,"C":40.2},{"h":13.525,"A":1.8,"B":3.4,"C":43.7},{"h":13.55,"A":1.7,"B":2.2,"C":47.1},{"h":13.575,"A":2.1,"B":3.6,"C":41.2},{"h":13.6,"A":2.6,"B":5.1,"C":36.8},{"h":13.625,"A":1.9,"B":4.4,"C":39.8},{"h":13.65,"A":1.3,"B":3.7,"C":43.5},{"h":13.675,"A":1.6,"B":4.8,"C":36.5},{"h":13.7,"A":1.9,"B":6.0,"C":31.4},{"h":13.725,"A":1.7,"B":4.5,"C":38.9},
      {"h":13.75,"A":1.5,"B":2.9,"C":45.9},{"h":13.775,"A":1.8,"B":3.6,"C":41.7},{"h":13.8,"A":2.2,"B":4.3,"C":38.2},{"h":13.825,"A":1.6,"B":3.9,"C":43.6},{"h":13.85,"A":1.1,"B":3.4,"C":50.8},{"h":13.875,"A":1.4,"B":4.4,"C":42.9},{"h":13.9,"A":1.6,"B":5.5,"C":41.4},{"h":13.925,"A":1.5,"B":4.1,"C":39.4},{"h":13.95,"A":1.3,"B":2.6,"C":36.9},{"h":13.975,"A":1.2,"B":3.3,"C":44.8},
      {"h":14,"A":1.2,"B":4.1,"C":53.6},{"h":14.025,"A":1.4,"B":3.6,"C":44.3},{"h":14.05,"A":1.6,"B":3.0,"C":39.1},{"h":14.075,"A":1.2,"B":4.1,"C":41.6},{"h":14.1,"A":0.9,"B":5.2,"C":44.7},{"h":14.125,"A":1.3,"B":7.4,"C":39.3},{"h":14.15,"A":1.4,"B":9.6,"C":36.3},{"h":14.175,"A":1.1,"B":6.9,"C":40.8},{"h":14.2,"A":1.1,"B":4.3,"C":42.8},{"h":14.225,"A":1.4,"B":3.4,"C":39.7},
      {"h":14.25,"A":1.7,"B":2.5,"C":38.5},{"h":14.275,"A":1.2,"B":3.1,"C":41.9},{"h":14.3,"A":0.8,"B":3.7,"C":46.2},{"h":14.325,"A":1.0,"B":2.8,"C":38.4},{"h":14.35,"A":1.3,"B":1.9,"C":35.0},{"h":14.375,"A":1.1,"B":3.2,"C":36.2},{"h":14.4,"A":1.0,"B":4.4,"C":33.6},{"h":14.425,"A":1.3,"B":3.5,"C":37.9},{"h":14.45,"A":1.5,"B":2.6,"C":41.7},{"h":14.475,"A":1.2,"B":4.3,"C":39.5},
      {"h":14.5,"A":0.7,"B":6.0,"C":37.4},{"h":14.525,"A":1.0,"B":4.5,"C":44.6},{"h":14.55,"A":1.2,"B":3.1,"C":54.3},{"h":14.575,"A":1.3,"B":2.6,"C":43.1},{"h":14.6,"A":1.4,"B":2.2,"C":39.9},{"h":14.625,"A":1.1,"B":3.5,"C":41.8},{"h":14.65,"A":0.9,"B":4.9,"C":44.1},{"h":14.675,"A":1.2,"B":3.8,"C":46.2},{"h":14.7,"A":1.6,"B":2.8,"C":50.8},{"h":14.725,"A":1.3,"B":2.3,"C":39.4},
      {"h":14.75,"A":1.1,"B":1.7,"C":36.6},{"h":14.775,"A":0.9,"B":2.6,"C":40.2},{"h":14.8,"A":0.8,"B":3.5,"C":42.3},{"h":14.825,"A":1.1,"B":2.9,"C":41.1},{"h":14.85,"A":1.3,"B":2.4,"C":38.8},{"h":14.875,"A":1.2,"B":3.3,"C":42.8},{"h":14.9,"A":1.0,"B":4.2,"C":45.4},{"h":14.925,"A":1.2,"B":3.1,"C":37.4},{"h":14.95,"A":1.4,"B":2.0,"C":28.0},{"h":14.975,"A":1.3,"B":2.7,"C":34.6},
      {"h":15,"A":1.1,"B":3.3,"C":31.8},{"h":15.025,"A":0.9,"B":2.9,"C":40.3},{"h":15.05,"A":0.8,"B":2.5,"C":44.6},{"h":15.075,"A":1.2,"B":3.3,"C":42.8},{"h":15.1,"A":1.5,"B":4.1,"C":40.2},{"h":15.125,"A":1.3,"B":5.2,"C":43.7},{"h":15.15,"A":1.0,"B":6.4,"C":47.5},{"h":15.175,"A":1.1,"B":6.0,"C":45.2},{"h":15.2,"A":1.3,"B":5.7,"C":49.4},{"h":15.225,"A":1.0,"B":8.4,"C":44.1},
      {"h":15.25,"A":0.7,"B":11.0,"C":38.9},{"h":15.275,"A":0.9,"B":9.4,"C":46.7},{"h":15.3,"A":1.2,"B":7.8,"C":53.8},{"h":15.325,"A":1.4,"B":8.7,"C":44.2},{"h":15.35,"A":1.6,"B":9.7,"C":43.1},{"h":15.375,"A":1.3,"B":8.1,"C":41.6},{"h":15.4,"A":0.9,"B":6.5,"C":36.7},{"h":15.425,"A":1.1,"B":7.4,"C":43.4},{"h":15.45,"A":1.4,"B":8.2,"C":45.2},{"h":15.475,"A":1.2,"B":7.0,"C":42.1},
      {"h":15.5,"A":1.0,"B":5.9,"C":41.5},{"h":15.525,"A":1.1,"B":6.5,"C":37.6},{"h":15.55,"A":1.2,"B":7.1,"C":27.2},{"h":15.575,"A":1.0,"B":6.0,"C":38.2},{"h":15.6,"A":0.8,"B":4.8,"C":43.9},{"h":15.625,"A":1.1,"B":5.2,"C":40.5},{"h":15.65,"A":1.5,"B":5.6,"C":37.8},{"h":15.675,"A":1.3,"B":4.5,"C":42.7},{"h":15.7,"A":1.1,"B":3.4,"C":51.2},{"h":15.725,"A":0.9,"B":3.1,"C":43.8},
      {"h":15.75,"A":0.7,"B":2.7,"C":40.6},{"h":15.775,"A":1.0,"B":3.5,"C":41.2},{"h":15.8,"A":1.3,"B":4.3,"C":46.4},{"h":15.825,"A":1.1,"B":3.3,"C":40.1},{"h":15.85,"A":0.9,"B":2.2,"C":35.3},{"h":15.875,"A":1.2,"B":2.9,"C":39.6},{"h":15.9,"A":1.4,"B":3.6,"C":42.7},{"h":15.925,"A":1.3,"B":4.6,"C":38.4},{"h":15.95,"A":1.1,"B":5.6,"C":33.3},{"h":15.975,"A":1.0,"B":4.1,"C":40.7},
      {"h":16,"A":1.0,"B":2.6,"C":44.1},{"h":16.025,"A":1.3,"B":3.2,"C":40.9},{"h":16.05,"A":1.5,"B":3.9,"C":38.2},{"h":16.075,"A":1.1,"B":2.8,"C":35.4},{"h":16.1,"A":0.7,"B":1.8,"C":27.8},{"h":16.125,"A":1.0,"B":3.1,"C":39.8},{"h":16.15,"A":1.3,"B":4.5,"C":45.6},{"h":16.175,"A":1.5,"B":5.8,"C":42.9},{"h":16.2,"A":1.8,"B":7.1,"C":40.3},{"h":16.225,"A":1.4,"B":5.2,"C":44.6},
      {"h":16.25,"A":1.1,"B":3.2,"C":49.0},{"h":16.275,"A":1.0,"B":2.8,"C":45.8},{"h":16.3,"A":0.9,"B":2.4,"C":43.7},{"h":16.325,"A":1.3,"B":4.5,"C":40.6},{"h":16.35,"A":1.6,"B":6.7,"C":36.4},{"h":16.375,"A":1.4,"B":5.1,"C":42.3},{"h":16.4,"A":1.2,"B":3.5,"C":46.9},{"h":16.425,"A":1.0,"B":2.7,"C":43.9},{"h":16.45,"A":0.8,"B":1.9,"C":41.2},{"h":16.475,"A":1.1,"B":3.2,"C":40.8},
      {"h":16.5,"A":1.4,"B":4.6,"C":38.8},{"h":16.525,"A":1.2,"B":6.1,"C":42.1},{"h":16.55,"A":1.0,"B":7.5,"C":44.5},{"h":16.575,"A":1.3,"B":5.4,"C":39.8},{"h":16.6,"A":1.7,"B":3.3,"C":35.9},{"h":16.625,"A":1.5,"B":2.7,"C":44.3},{"h":16.65,"A":1.3,"B":2.1,"C":51.2},{"h":16.675,"A":1.1,"B":3.5,"C":45.7},{"h":16.7,"A":0.9,"B":4.8,"C":42.3},{"h":16.725,"A":1.2,"B":2.6,"C":46.2},
      {"h":16.75,"A":1.5,"B":0.4,"C":47.8},{"h":16.775,"A":1.3,"B":2.1,"C":48.6},{"h":16.8,"A":1.1,"B":3.7,"C":53.5},{"h":16.825,"A":1.4,"B":4.4,"C":44.3},{"h":16.85,"A":1.8,"B":5.2,"C":39.6},{"h":16.875,"A":1.5,"B":3.8,"C":37.5},{"h":16.9,"A":1.2,"B":2.5,"C":33.3},{"h":16.925,"A":1.4,"B":3.2,"C":40.8},{"h":16.95,"A":1.6,"B":4.0,"C":45.2},{"h":16.975,"A":1.5,"B":3.6,"C":42.7},
      {"h":17,"A":1.4,"B":3.1,"C":40.7},{"h":17.025,"A":1.6,"B":5.9,"C":43.6},{"h":17.05,"A":1.9,"B":8.6,"C":46.1},{"h":17.075,"A":1.5,"B":5.6,"C":41.3},{"h":17.1,"A":1.2,"B":2.7,"C":36.5},{"h":17.125,"A":1.4,"B":3.5,"C":40.4},{"h":17.15,"A":1.6,"B":4.4,"C":43.8},{"h":17.175,"A":1.8,"B":3.0,"C":46.2},{"h":17.2,"A":2.1,"B":1.6,"C":49.7},{"h":17.225,"A":1.7,"B":2.7,"C":44.1},
      {"h":17.25,"A":1.3,"B":3.8,"C":38.4},{"h":17.275,"A":1.5,"B":4.5,"C":45.2},{"h":17.3,"A":1.7,"B":5.2,"C":52.0},{"h":17.325,"A":1.3,"B":3.8,"C":44.7},{"h":17.35,"A":1.0,"B":2.3,"C":41.3},{"h":17.375,"A":1.4,"B":3.4,"C":38.2},{"h":17.4,"A":2.0,"B":4.6,"C":29.2},{"h":17.425,"A":1.7,"B":3.8,"C":39.6},{"h":17.45,"A":1.4,"B":3.0,"C":44.9},{"h":17.475,"A":2.1,"B":2.2,"C":42.5},
      {"h":17.5,"A":2.8,"B":1.4,"C":39.7},{"h":17.525,"A":1.9,"B":3.5,"C":43.3},{"h":17.55,"A":1.5,"B":5.6,"C":47.2},{"h":17.575,"A":1.6,"B":4.5,"C":40.9},{"h":17.6,"A":1.8,"B":3.4,"C":35.1},{"h":17.625,"A":1.4,"B":2.7,"C":39.7},{"h":17.65,"A":1.1,"B":2.0,"C":43.6},{"h":17.675,"A":1.4,"B":3.3,"C":42.3},{"h":17.7,"A":1.6,"B":4.7,"C":41.0},{"h":17.725,"A":1.5,"B":3.9,"C":43.9},
      {"h":17.75,"A":1.3,"B":3.2,"C":46.8},{"h":17.775,"A":1.1,"B":4.6,"C":42.5},{"h":17.8,"A":0.9,"B":6.1,"C":37.8},{"h":17.825,"A":1.2,"B":4.4,"C":44.8},{"h":17.85,"A":1.5,"B":2.6,"C":52.3},{"h":17.875,"A":1.3,"B":5.4,"C":41.2},{"h":17.9,"A":1.2,"B":8.2,"C":29.5},{"h":17.925,"A":1.3,"B":6.0,"C":40.1},{"h":17.95,"A":1.4,"B":3.9,"C":44.3},{"h":17.975,"A":1.2,"B":3.1,"C":42.6},
      {"h":18,"A":1.0,"B":2.4,"C":42.6},{"h":18.025,"A":1.2,"B":3.4,"C":40.3},{"h":18.05,"A":1.3,"B":4.5,"C":38.1},{"h":18.075,"A":1.9,"B":3.2,"C":35.2},{"h":18.1,"A":2.8,"B":1.9,"C":28.0},{"h":18.125,"A":2.1,"B":2.7,"C":39.4},{"h":18.15,"A":1.6,"B":3.6,"C":45.3},{"h":18.175,"A":1.3,"B":4.4,"C":42.6},{"h":18.2,"A":1.1,"B":5.3,"C":39.7},{"h":18.225,"A":1.2,"B":4.1,"C":45.1},
      {"h":18.25,"A":1.4,"B":2.8,"C":51.0},{"h":18.275,"A":1.1,"B":3.5,"C":46.8},{"h":18.3,"A":0.9,"B":4.1,"C":43.2},{"h":18.325,"A":1.3,"B":2.8,"C":40.4},{"h":18.35,"A":1.7,"B":1.5,"C":36.8},{"h":18.375,"A":1.4,"B":2.7,"C":42.1},{"h":18.4,"A":1.2,"B":3.9,"C":47.5},{"h":18.425,"A":1.3,"B":4.4,"C":43.7},{"h":18.45,"A":1.5,"B":5.0,"C":40.1},{"h":18.475,"A":1.2,"B":3.8,"C":42.6},
      {"h":18.5,"A":1.0,"B":2.6,"C":44.8},{"h":18.525,"A":1.1,"B":3.4,"C":48.1},{"h":18.55,"A":1.3,"B":4.3,"C":55.4},{"h":18.575,"A":1.5,"B":3.7,"C":45.3},{"h":18.6,"A":1.8,"B":3.1,"C":33.6},{"h":18.625,"A":1.4,"B":4.5,"C":43.7},{"h":18.65,"A":1.1,"B":6.0,"C":50.8},{"h":18.675,"A":1.2,"B":4.1,"C":45.8},{"h":18.7,"A":1.4,"B":2.2,"C":41.9},{"h":18.725,"A":1.1,"B":3.5,"C":39.6},
      {"h":18.75,"A":0.8,"B":4.8,"C":37.2},{"h":18.775,"A":1.2,"B":4.1,"C":41.3},{"h":18.8,"A":1.6,"B":3.5,"C":45.6},{"h":18.825,"A":1.4,"B":5.3,"C":42.7},{"h":18.85,"A":1.2,"B":7.1,"C":39.8},{"h":18.875,"A":1.1,"B":5.0,"C":41.4},{"h":18.9,"A":1.0,"B":2.9,"C":43.1},{"h":18.925,"A":1.3,"B":3.6,"C":46.3},{"h":18.95,"A":1.5,"B":4.4,"C":51.8},{"h":18.975,"A":1.3,"B":5.8,"C":44.2},
      {"h":19,"A":1.2,"B":7.3,"C":38.5},{"h":19.025,"A":1.1,"B":5.2,"C":41.6},{"h":19.05,"A":0.9,"B":3.0,"C":44.2},{"h":19.075,"A":1.2,"B":3.9,"C":39.8},{"h":19.1,"A":1.5,"B":4.7,"C":34.4},{"h":19.125,"A":1.3,"B":3.4,"C":43.2},{"h":19.15,"A":1.1,"B":2.1,"C":53.5},{"h":19.175,"A":1.2,"B":3.8,"C":46.7},{"h":19.2,"A":1.3,"B":5.5,"C":40.9},{"h":19.225,"A":1.0,"B":4.4,"C":43.8},
      {"h":19.25,"A":0.8,"B":3.3,"C":46.7},{"h":19.275,"A":1.2,"B":2.6,"C":49.1},{"h":19.3,"A":1.6,"B":1.8,"C":52.5},{"h":19.325,"A":1.3,"B":3.0,"C":42.7},{"h":19.35,"A":1.0,"B":4.2,"C":31.4},{"h":19.375,"A":1.2,"B":5.2,"C":38.6},{"h":19.4,"A":1.4,"B":6.3,"C":43.8},{"h":19.425,"A":1.3,"B":5.0,"C":40.9},{"h":19.45,"A":1.2,"B":3.7,"C":39.2},{"h":19.475,"A":0.9,"B":3.1,"C":44.3},
      {"h":19.5,"A":0.7,"B":2.5,"C":50.5},{"h":19.525,"A":1.0,"B":5.4,"C":47.8},{"h":19.55,"A":1.3,"B":8.4,"C":45.1},{"h":19.575,"A":1.4,"B":6.0,"C":48.6},{"h":19.6,"A":1.5,"B":3.6,"C":52.3},{"h":19.625,"A":1.2,"B":4.3,"C":42.7},{"h":19.65,"A":1.0,"B":5.1,"C":31.4},{"h":19.675,"A":1.1,"B":3.9,"C":36.4},{"h":19.7,"A":1.2,"B":2.7,"C":41.7},{"h":19.725,"A":1.0,"B":3.6,"C":43.8},
      {"h":19.75,"A":0.9,"B":4.5,"C":46.6},{"h":19.775,"A":1.2,"B":3.8,"C":41.9},{"h":19.8,"A":1.4,"B":3.2,"C":37.5},{"h":19.825,"A":1.3,"B":4.6,"C":40.6},{"h":19.85,"A":1.1,"B":6.0,"C":44.6},{"h":19.875,"A":1.4,"B":4.2,"C":37.8},{"h":19.9,"A":1.7,"B":2.3,"C":30.3},{"h":19.925,"A":1.5,"B":3.6,"C":36.1},{"h":19.95,"A":1.3,"B":4.9,"C":42.2},{"h":19.975,"A":1.4,"B":5.8,"C":40.8},
      {"h":20,"A":1.5,"B":6.7,"C":39.6},{"h":20.025,"A":1.3,"B":5.1,"C":42.4},{"h":20.05,"A":1.1,"B":3.4,"C":45.3},{"h":20.075,"A":1.5,"B":4.0,"C":40.9},{"h":20.1,"A":1.8,"B":4.6,"C":36.8},{"h":20.125,"A":1.6,"B":3.7,"C":44.6},{"h":20.15,"A":1.3,"B":2.8,"C":53.1},{"h":20.175,"A":1.7,"B":5.5,"C":47.2},{"h":20.2,"A":2.2,"B":8.2,"C":41.4},{"h":20.225,"A":1.9,"B":6.1,"C":44.3},
      {"h":20.25,"A":1.6,"B":3.9,"C":47.2},{"h":20.275,"A":2.0,"B":4.6,"C":38.1},{"h":20.3,"A":2.4,"B":5.3,"C":28.0},{"h":20.325,"A":1.8,"B":3.8,"C":36.4},{"h":20.35,"A":1.2,"B":2.4,"C":44.6},{"h":20.375,"A":2.1,"B":3.4,"C":41.9},{"h":20.4,"A":3.0,"B":4.4,"C":38.9},{"h":20.425,"A":2.3,"B":3.8,"C":42.5},{"h":20.45,"A":1.7,"B":3.1,"C":46.1},{"h":20.475,"A":1.9,"B":4.5,"C":40.8},
      {"h":20.5,"A":2.1,"B":5.8,"C":35.9},{"h":20.525,"A":1.7,"B":4.2,"C":44.7},{"h":20.55,"A":1.4,"B":2.6,"C":53.1},{"h":20.575,"A":1.6,"B":4.5,"C":47.6},{"h":20.6,"A":1.9,"B":6.5,"C":42.5},{"h":20.625,"A":1.7,"B":5.1,"C":40.9},{"h":20.65,"A":1.5,"B":3.7,"C":39.3},{"h":20.675,"A":1.9,"B":4.3,"C":43.8},{"h":20.7,"A":2.3,"B":4.9,"C":47.7},{"h":20.725,"A":1.7,"B":3.6,"C":49.2},
      {"h":20.75,"A":1.2,"B":2.2,"C":52.3},{"h":20.775,"A":1.5,"B":3.1,"C":46.3},{"h":20.8,"A":1.8,"B":4.0,"C":41.8},{"h":20.825,"A":1.7,"B":3.7,"C":38.9},{"h":20.85,"A":1.6,"B":3.3,"C":36.2},{"h":20.875,"A":1.4,"B":4.4,"C":35.3},{"h":20.9,"A":1.3,"B":6.4,"C":34.4},{"h":20.925,"A":1.6,"B":4.5,"C":39.6},{"h":20.95,"A":2.0,"B":2.5,"C":45.5},{"h":20.975,"A":1.7,"B":3.1,"C":42.1},
      {"h":21,"A":1.4,"B":3.8,"C":40.2},{"h":21.025,"A":1.6,"B":3.1,"C":43.1},{"h":21.05,"A":1.8,"B":2.4,"C":46.3},{"h":21.075,"A":1.5,"B":3.5,"C":41.6},{"h":21.1,"A":1.2,"B":4.5,"C":37.1},{"h":21.125,"A":1.4,"B":3.2,"C":40.2},{"h":21.15,"A":1.6,"B":1.9,"C":43.9},{"h":21.175,"A":1.3,"B":2.7,"C":41.3},{"h":21.2,"A":1.1,"B":3.6,"C":38.8},{"h":21.225,"A":1.3,"B":3.3,"C":36.1},
      {"h":21.25,"A":1.5,"B":2.9,"C":33.6},{"h":21.275,"A":1.7,"B":3.5,"C":42.8},{"h":21.3,"A":1.9,"B":4.2,"C":52.7},{"h":21.325,"A":1.6,"B":2.9,"C":50.1},{"h":21.35,"A":1.3,"B":1.5,"C":48.4},{"h":21.375,"A":1.4,"B":2.4,"C":43.7},{"h":21.4,"A":1.6,"B":3.3,"C":39.5},{"h":21.425,"A":1.3,"B":3.0,"C":41.8},{"h":21.45,"A":1.0,"B":2.7,"C":44.2},{"h":21.475,"A":1.2,"B":4.1,"C":40.3},
      {"h":21.5,"A":1.4,"B":5.6,"C":36.7},{"h":21.525,"A":1.3,"B":4.4,"C":39.2},{"h":21.55,"A":1.2,"B":3.1,"C":41.9},{"h":21.575,"A":1.5,"B":3.6,"C":37.4},{"h":21.6,"A":1.7,"B":4.1,"C":32.9},{"h":21.625,"A":1.4,"B":3.2,"C":35.6},{"h":21.65,"A":1.1,"B":2.2,"C":38.4},{"h":21.675,"A":1.3,"B":3.7,"C":41.8},{"h":21.7,"A":1.5,"B":5.2,"C":45.2},{"h":21.725,"A":1.4,"B":4.3,"C":39.7},
      {"h":21.75,"A":1.3,"B":3.4,"C":34.4},{"h":21.775,"A":1.1,"B":2.7,"C":37.1},{"h":21.8,"A":1.0,"B":2.0,"C":39.8},{"h":21.825,"A":1.2,"B":2.9,"C":38.2},{"h":21.85,"A":1.4,"B":3.9,"C":36.1},{"h":21.875,"A":1.3,"B":3.2,"C":38.4},{"h":21.9,"A":1.2,"B":2.6,"C":40.8},{"h":21.925,"A":1.4,"B":3.5,"C":33.2},{"h":21.95,"A":1.6,"B":4.3,"C":25.8},{"h":21.975,"A":1.3,"B":3.7,"C":31.6},
      {"h":22,"A":1.1,"B":3.1,"C":37.2},{"h":22.025,"A":1.2,"B":2.8,"C":34.2},{"h":22.05,"A":1.4,"B":2.4,"C":31.4},{"h":22.075,"A":1.1,"B":3.2,"C":38.6},{"h":22.1,"A":0.9,"B":4.0,"C":47.5},{"h":22.125,"A":1.2,"B":3.4,"C":41.3},{"h":22.15,"A":1.5,"B":2.8,"C":35.8},{"h":22.175,"A":1.3,"B":3.2,"C":32.7},{"h":22.2,"A":1.2,"B":3.6,"C":29.6},{"h":22.225,"A":1.4,"B":2.6,"C":34.1},
      {"h":22.25,"A":1.7,"B":1.7,"C":38.4},{"h":22.275,"A":1.3,"B":3.1,"C":35.8},{"h":22.3,"A":1.0,"B":4.4,"C":33.1},{"h":22.325,"A":1.1,"B":3.7,"C":29.4},{"h":22.35,"A":1.3,"B":2.9,"C":25.6},{"h":22.375,"A":1.4,"B":4.5,"C":31.2},{"h":22.4,"A":1.6,"B":6.2,"C":36.9},{"h":22.425,"A":1.3,"B":4.8,"C":39.4},{"h":22.45,"A":1.1,"B":3.5,"C":42.1},{"h":22.475,"A":1.6,"B":2.9,"C":46.8},
      {"h":22.5,"A":2.1,"B":2.3,"C":51.8},{"h":22.525,"A":1.7,"B":3.6,"C":42.6},{"h":22.55,"A":1.4,"B":4.8,"C":33.5},{"h":22.575,"A":1.3,"B":3.9,"C":37.4},{"h":22.6,"A":1.2,"B":3.0,"C":41.5},{"h":22.625,"A":1.4,"B":3.6,"C":35.7},{"h":22.65,"A":1.6,"B":4.2,"C":29.8},{"h":22.675,"A":1.2,"B":3.4,"C":33.1},{"h":22.7,"A":0.9,"B":2.6,"C":36.2},{"h":22.725,"A":1.1,"B":3.3,"C":30.4},
      {"h":22.75,"A":1.3,"B":3.9,"C":24.5},{"h":22.775,"A":1.4,"B":2.8,"C":29.6},{"h":22.8,"A":1.5,"B":1.9,"C":34.7},{"h":22.825,"A":1.3,"B":3.8,"C":32.9},{"h":22.85,"A":1.1,"B":5.6,"C":31.2},{"h":22.875,"A":1.2,"B":4.4,"C":34.3},{"h":22.9,"A":1.4,"B":3.3,"C":37.6},{"h":22.925,"A":1.2,"B":3.0,"C":32.1},{"h":22.95,"A":1.0,"B":2.7,"C":26.5},{"h":22.975,"A":1.2,"B":3.6,"C":30.8},
      {"h":23,"A":1.3,"B":4.5,"C":33.8},{"h":23.025,"A":1.4,"B":3.7,"C":31.6},{"h":23.05,"A":1.6,"B":2.8,"C":29.4},{"h":23.075,"A":1.3,"B":3.3,"C":32.8},{"h":23.1,"A":1.0,"B":3.7,"C":36.1},{"h":23.125,"A":1.2,"B":2.8,"C":33.7},{"h":23.15,"A":1.4,"B":1.9,"C":31.2},{"h":23.175,"A":1.3,"B":3.4,"C":35.6},{"h":23.2,"A":1.2,"B":4.9,"C":40.0},{"h":23.225,"A":1.4,"B":4.0,"C":34.4},
      {"h":23.25,"A":1.5,"B":3.2,"C":28.7},{"h":23.275,"A":1.2,"B":2.9,"C":31.1},{"h":23.3,"A":0.9,"B":2.5,"C":33.5},{"h":23.325,"A":1.1,"B":3.3,"C":31.8},{"h":23.35,"A":1.3,"B":4.1,"C":30.1},{"h":23.375,"A":1.2,"B":5.6,"C":32.6},{"h":23.4,"A":1.1,"B":7.3,"C":35.2},{"h":23.425,"A":1.4,"B":5.3,"C":31.3},{"h":23.45,"A":1.6,"B":3.4,"C":27.4},{"h":23.475,"A":1.4,"B":2.8,"C":25.4},
      {"h":23.5,"A":1.2,"B":2.2,"C":23.5},{"h":23.525,"A":1.0,"B":3.4,"C":27.6},{"h":23.55,"A":0.8,"B":4.6,"C":31.8},{"h":23.575,"A":1.1,"B":3.8,"C":30.1},{"h":23.6,"A":1.4,"B":3.1,"C":28.3},{"h":23.625,"A":1.2,"B":2.9,"C":31.2},{"h":23.65,"A":1.0,"B":2.6,"C":33.9},{"h":23.675,"A":1.1,"B":3.2,"C":30.3},{"h":23.7,"A":1.3,"B":3.8,"C":26.7},{"h":23.725,"A":1.1,"B":2.7,"C":34.8},
      {"h":23.75,"A":0.9,"B":1.8,"C":42.6},{"h":23.775,"A":1.2,"B":2.4,"C":36.4},{"h":23.8,"A":1.5,"B":3.0,"C":30.4},{"h":23.825,"A":1.3,"B":2.7,"C":24.9},{"h":23.85,"A":1.1,"B":2.4,"C":19.4},{"h":23.875,"A":1.1,"B":2.2,"C":27.8},{"h":23.9,"A":1.2,"B":2.0,"C":36.3},{"h":23.925,"A":1.1,"B":1.3,"C":30.6},{"h":23.95,"A":1.0,"B":0.6,"C":24.7},{"h":23.975,"A":1.1,"B":0.4,"C":26.8}
    ]
  },
  "transform": [{"fold": ["A", "B", "C"], "as": ["series", "loss"]}],
  "layer": [
    {
      "mark": {"type": "line", "strokeWidth": 1.2, "strokeJoin": "miter"},
      "encoding": {
        "x": {
          "field": "h", "type": "quantitative",
          "scale": {"domain": [0, 25], "nice": false, "zero": false},
          "axis": {"orient": "bottom", "title": "Hour", "values": [0, 5, 10, 15, 20, 25],
                   "labelPadding": 19, "titleX": 372, "titleY": 45, "titleBaseline": "middle"}
        },
        "y": {
          "field": "loss", "type": "quantitative",
          "scale": {"domain": [0, 60], "nice": false},
          "axis": {"orient": "left", "title": "Packet Loss (%)", "values": [0, 10, 20, 30, 40, 50, 60],
                   "labelPadding": 22, "titleX": -58, "titleY": 267, "titleBaseline": "middle", "titleAngle": -90}
        },
        "color": {
          "field": "series", "type": "nominal",
          "scale": {"domain": ["A", "B", "C"], "range": ["#ff0000", "#00c000", "#0080ff"]},
          "legend": {
            "orient": "none", "legendX": 683, "legendY": 2, "title": null,
            "symbolType": "stroke", "symbolSize": 400, "symbolStrokeWidth": 1.2,
            "rowPadding": 2, "padding": 0,
            "labelFont": "DejaVu Sans Mono", "labelFontSize": 15, "labelFontWeight": "bold", "labelColor": "#000"
          }
        }
      }
    },
    {
      "data": {"values": []},
      "mark": {"type": "rule"},
      "encoding": {
        "x": {"field": "h", "type": "quantitative",
              "axis": {"orient": "top", "title": null, "labels": false, "values": [0, 5, 10, 15, 20, 25]}},
        "y": {"field": "loss", "type": "quantitative",
              "axis": {"orient": "right", "title": null, "labels": false, "values": [0, 10, 20, 30, 40, 50, 60]}}
      }
    }
  ],
  "resolve": {"axis": {"x": "independent", "y": "independent"}},
  "config": {
    "background": "#ffffff",
    "view": {"stroke": "#000", "strokeWidth": 1},
    "axis": {
      "domain": false, "grid": false, "tickSize": -5, "tickColor": "#000", "tickWidth": 1,
      "labelFlush": false, "labelOverlap": false,
      "labelFont": "DejaVu Sans Mono", "labelFontSize": 15, "labelFontWeight": "bold", "labelColor": "#000",
      "titleFont": "DejaVu Sans Mono", "titleFontSize": 15, "titleFontWeight": "bold", "titleColor": "#000"
    }
  }
}
